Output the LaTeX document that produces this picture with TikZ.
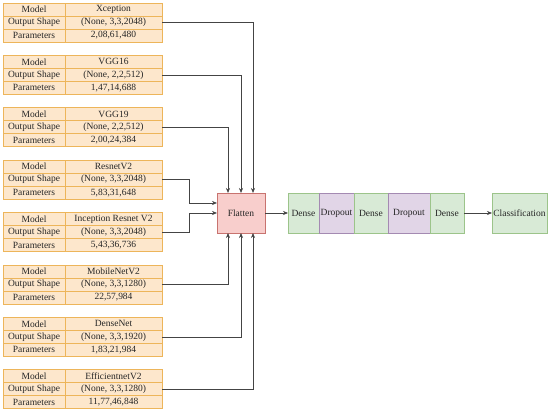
\documentclass[tikz,border=0pt]{standalone}
\usepackage{fontspec}
\setmainfont{Liberation Serif}
\usetikzlibrary{arrows.meta,positioning}
\definecolor{tabfill}{HTML}{FDE7CC}
\definecolor{tabline}{HTML}{EDB55A}
\definecolor{redfill}{HTML}{F8CECC}
\definecolor{redline}{HTML}{C8736F}
\definecolor{grnfill}{HTML}{D8EAD6}
\definecolor{grnline}{HTML}{9CC48A}
\definecolor{purfill}{HTML}{E1D5E7}
\definecolor{purline}{HTML}{A48AB2}
\definecolor{wire}{HTML}{444444}

\begin{document}
\begin{tikzpicture}[x=1pt,y=-1pt,node distance=0pt,
  every node/.style={font=\fontsize{9.5}{11}\selectfont,text=black!85,outer sep=0pt,inner sep=1pt},
  cell/.style={draw=tabline,fill=tabfill,line width=0.9pt,minimum height=13pt},
  lab/.style={cell,minimum width=62pt},
  val/.style={cell,minimum width=97pt},
  layer/.style={draw,line width=0.7pt,minimum height=40pt},
  conn/.style={draw=wire,line width=0.6pt,-{Stealth[length=5pt,width=4pt]}}]
\useasboundingbox (0,0) rectangle (550,414);
% model tables
\foreach \i/\net/\shp/\prm/\top in {
  1/Xception/{(None, 3,3,2048)}/{2,08,61,480}/3,
  2/VGG16/{(None, 2,2,512)}/{1,47,14,688}/55.4,
  3/VGG19/{(None, 2,2,512)}/{2,00,24,384}/107.8,
  4/ResnetV2/{(None, 3,3,2048)}/{5,83,31,648}/160.2,
  5/Inception Resnet V2/{(None, 3,3,2048)}/{5,43,36,736}/212.6,
  6/MobileNetV2/{(None, 3,3,1280)}/{22,57,984}/265,
  7/DenseNet/{(None, 3,3,1920)}/{1,83,21,984}/317.4,
  8/EfficientnetV2/{(None, 3,3,1280)}/{11,77,46,848}/369.8}{
  \node[lab,anchor=north west] (t\i-m) at (3,\top) {Model};
  \node[val,right=of t\i-m] (t\i-mv) {\net};
  \node[lab,below=of t\i-m] (t\i-o) {Output Shape};
  \node[val,right=of t\i-o] (t\i-ov) {\shp};
  \node[lab,below=of t\i-o] (t\i-p) {Parameters};
  \node[val,right=of t\i-p] (t\i-pv) {\prm};
}
% layers
\node[layer,draw=redline,fill=redfill,minimum width=48pt] (flat) at (241,213) {Flatten};
\node[layer,draw=grnline,fill=grnfill,minimum width=31pt,anchor=west] (d1) at (288,213) {Dense};
\node[layer,draw=purline,fill=purfill,minimum width=35pt,right=of d1] (r1) {Dropout};
\node[layer,draw=grnline,fill=grnfill,minimum width=34pt,right=of r1] (d2) {Dense};
\node[layer,draw=purline,fill=purfill,minimum width=42pt,right=of d2] (r2) {Dropout};
\node[layer,draw=grnline,fill=grnfill,minimum width=34pt,right=of r2] (d3) {Dense};
\node[layer,draw=grnline,fill=grnfill,minimum width=55pt,anchor=west] (cls) at (492,213) {Classification};
% wires
\draw[conn] (t1-ov.east) -| ([xshift=12pt]flat.north);
\draw[conn] (t2-ov.east) -| (flat.north);
\draw[conn] (t3-ov.east) -| ([xshift=-13pt]flat.north);
\draw[conn] (t4-ov.east) -- ++(27,0) |- ([yshift=10pt]flat.west);
\draw[conn] (t5-ov.east) -- ++(27,0) |- (flat.west);
\draw[conn] (t6-ov.east) -| ([xshift=-13pt]flat.south);
\draw[conn] (t7-ov.east) -| (flat.south);
\draw[conn] (t8-ov.east) -| ([xshift=12pt]flat.south);
\draw[conn] (flat) -- (d1);
\draw[conn] (d3) -- (cls);
\end{tikzpicture}
\end{document}
